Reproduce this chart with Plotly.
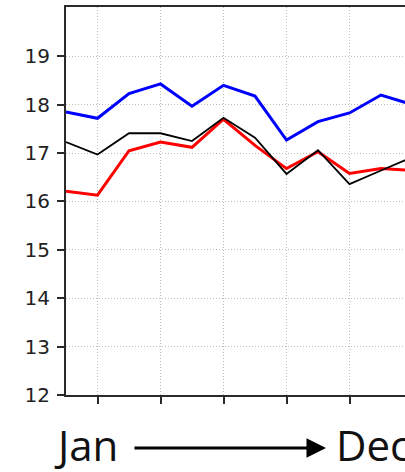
import plotly.graph_objects as go

# Monthly values (index 0 = Jan)
months = list(range(12))
blue_series = [17.85, 17.72, 18.23, 18.43, 17.97, 18.40, 18.18, 17.27, 17.65, 17.83, 18.20, 18.00]
black_series = [17.23, 16.97, 17.41, 17.41, 17.25, 17.73, 17.32, 16.57, 17.06, 16.36, 16.64, 16.92]
red_series = [16.21, 16.13, 17.05, 17.23, 17.12, 17.70, 17.16, 16.68, 17.03, 16.58, 16.68, 16.64]

y_ticks = [12, 13, 14, 15, 16, 17, 18, 19]
x_ticks = [1, 3, 5, 7, 9, 11]

W, H = 405, 472
L, R, T, B = 66, 0, 7, 77
plot_w = W - L - R
plot_h = H - T - B


def px_x(px):
    return (px - L) / plot_w


def px_y(py):
    return (H - B - py) / plot_h


fig = go.Figure()
fig.add_trace(go.Scatter(x=months, y=blue_series, mode="lines",
                         line=dict(color="#0000ff", width=3)))
fig.add_trace(go.Scatter(x=months, y=red_series, mode="lines",
                         line=dict(color="#ff0000", width=3)))
fig.add_trace(go.Scatter(x=months, y=black_series, mode="lines",
                         line=dict(color="#000000", width=1.8)))

axis_common = dict(
    showline=True, linecolor="#2a2a2a", linewidth=2,
    ticks="outside", ticklen=7, tickwidth=1.5, tickcolor="#2a2a2a",
    showgrid=True, gridcolor="#bdbdbd", gridwidth=1, griddash="1px,2px",
    zeroline=False,
)

fig.update_xaxes(range=[0, (405 - L) / 31.5], tickvals=x_ticks,
                 showticklabels=False, mirror=True, **axis_common)
fig.update_yaxes(range=[12, 20.02], tickvals=y_ticks,
                 tickfont=dict(family="DejaVu Sans", size=20, color="#222222"),
                 ticklabelstandoff=3, **axis_common)

label_font = dict(family="Open Sans", size=42, color="#111111")
fig.add_annotation(x=px_x(52), y=px_y(444), xref="paper", yref="paper",
                   text="Jan", showarrow=False, xanchor="left", yanchor="middle",
                   font=label_font)
fig.add_annotation(x=px_x(334), y=px_y(444), xref="paper", yref="paper",
                   text="Dec", showarrow=False, xanchor="left", yanchor="middle",
                   font=label_font)
fig.add_annotation(x=px_x(326), y=px_y(448), xref="paper", yref="paper",
                   ax=-193, ay=0, axref="pixel", ayref="pixel",
                   text="", showarrow=True, arrowhead=2, arrowsize=1.3,
                   arrowwidth=3, arrowcolor="#000000")

fig.update_layout(
    width=W, height=H,
    margin=dict(l=L, r=R, t=T, b=B),
    paper_bgcolor="white", plot_bgcolor="white",
    showlegend=False,
)

fig.write_html("out.html")
